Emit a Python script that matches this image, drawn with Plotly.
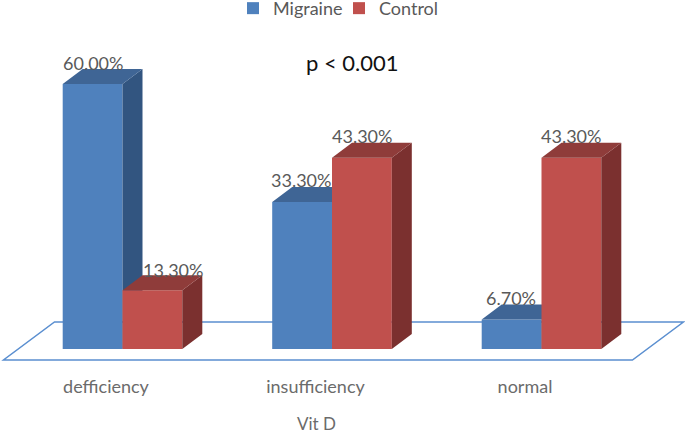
import plotly.graph_objects as go

categories = ["defficiency", "insufficiency", "normal"]
migraine = [60.0, 33.3, 6.7]
control = [13.3, 43.3, 43.3]
axis_title = "Vit D"
note = "p < 0.001"

W, H = 685, 432
MB = 60
PX_X = 209.5      # pixels per category
PX_Y = 4.417      # pixels per percentage point
X0 = 122.5        # pixel of category 0 centre line
Y0 = 349          # pixel of value 0
BW = 59.8 / PX_X
DX, DY = 20 / PX_X, 15 / PX_Y
xr = [-X0 / PX_X, (W - X0) / PX_X]
yr = [(Y0 - (H - MB)) / PX_Y, Y0 / PX_Y]
xs = list(range(len(categories)))

# (x, y) pixel nudges for the data labels, relative to bar top centre
mig_nudge = [(0, -21), (-1, -22), (-1, -21.5)]
ctl_nudge = [(21, -20), (0, -22), (0, -22)]


def faces(values, offset):
    top_x, top_y, side_x, side_y = [], [], [], []
    for i, v in zip(xs, values):
        a, b = i + offset, i + offset + BW
        top_x += [a, a + DX, b + DX, b, a, None]
        top_y += [v, v + DY, v + DY, v, v, None]
        side_x += [b, b + DX, b + DX, b, b, None]
        side_y += [v, v + DY, DY, 0, v, None]
    return top_x, top_y, side_x, side_y


def face(x, y, color, xa, ya):
    return go.Scatter(x=x, y=y, mode="lines", fill="toself", fillcolor=color,
                      line=dict(width=0, color=color), hoverinfo="skip",
                      showlegend=False, xaxis=xa, yaxis=ya)


fig = go.Figure()
series = [("Migraine", migraine, -BW, "#4f81bd", "#3f6595", "#325580", "x", "y"),
          ("Control", control, 0, "#c0504d", "#8f3c3a", "#7b302f", "x2", "y2")]
for name, vals, off, front, top, side, xa, ya in series:
    fig.add_trace(go.Bar(x=xs, y=vals, name=name, width=BW, offset=off,
                         marker=dict(color=front, line=dict(width=0)),
                         xaxis=xa, yaxis=ya))
    tx, ty, sx, sy = faces(vals, off)
    fig.add_trace(face(sx, sy, side, xa, ya))
    fig.add_trace(face(tx, ty, top, xa, ya))

annotations = []
label_font = dict(family="Lato", size=18, color="#595959")
for vals, off, nudge in [(migraine, -BW, mig_nudge), (control, 0, ctl_nudge)]:
    for i, v, (nx, ny) in zip(xs, vals, nudge):
        annotations.append(dict(x=i + off + BW / 2, y=v, xref="x", yref="y",
                                text=f"{v:.2f}%", showarrow=False, font=label_font,
                                xshift=nx, yshift=-ny, xanchor="center", yanchor="middle"))
annotations.append(dict(x=352 / W, y=(H - MB - 63) / (H - MB),
                        xref="paper", yref="paper", text=note, showarrow=False,
                        font=dict(family="Lato", size=22, color="#111111"),
                        xanchor="center", yanchor="middle"))
annotations.append(dict(x=316 / W, y=(H - MB - 423) / (H - MB),
                        xref="paper", yref="paper", text=axis_title, showarrow=False,
                        font=dict(family="Lato", size=17, color="#6b6b6b"),
                        xanchor="center", yanchor="middle"))

# floor plane, from the category scale
fl, fr = -0.568, 2.434
fy = -11 / PX_Y
fdx, fdy = 51 / PX_X, 38 / PX_Y
floor_path = (f"M{fl},{fy} L{fr},{fy} L{fr + fdx},{fy + fdy} L{fl + fdx},{fy + fdy} Z")

fig.update_layout(
    width=W, height=H, margin=dict(l=0, r=0, t=0, b=MB, pad=0, autoexpand=False),
    paper_bgcolor="white", plot_bgcolor="white",
    barmode="overlay", annotations=annotations,
    shapes=[dict(type="path", path=floor_path, xref="x", yref="y", layer="below",
                 line=dict(color="#5b8fd0", width=1.5), fillcolor="rgba(0,0,0,0)")],
    legend=dict(orientation="h", x=233 / W, xanchor="left", y=1.027, yanchor="top",
                font=dict(family="Lato", size=18, color="#595959"),
                entrywidth=61, entrywidthmode="pixels", bgcolor="rgba(0,0,0,0)",
                traceorder="normal"),
    xaxis=dict(range=xr, tickmode="array", tickvals=[i - 16.5 / PX_X for i in xs],
               ticktext=categories, showgrid=False, zeroline=False, showline=False,
               ticks="", ticklabelstandoff=2, automargin=False,
               tickfont=dict(family="Lato", size=18, color="#6b6b6b")),
    yaxis=dict(range=yr, visible=False, showgrid=False, zeroline=False),
    xaxis2=dict(range=xr, overlaying="x", visible=False),
    yaxis2=dict(range=yr, overlaying="y", visible=False),
)
fig.write_html("out.html", config=dict(displayModeBar=False),
               post_script="document.body.style.margin='0';document.body.style.overflow='hidden';")
